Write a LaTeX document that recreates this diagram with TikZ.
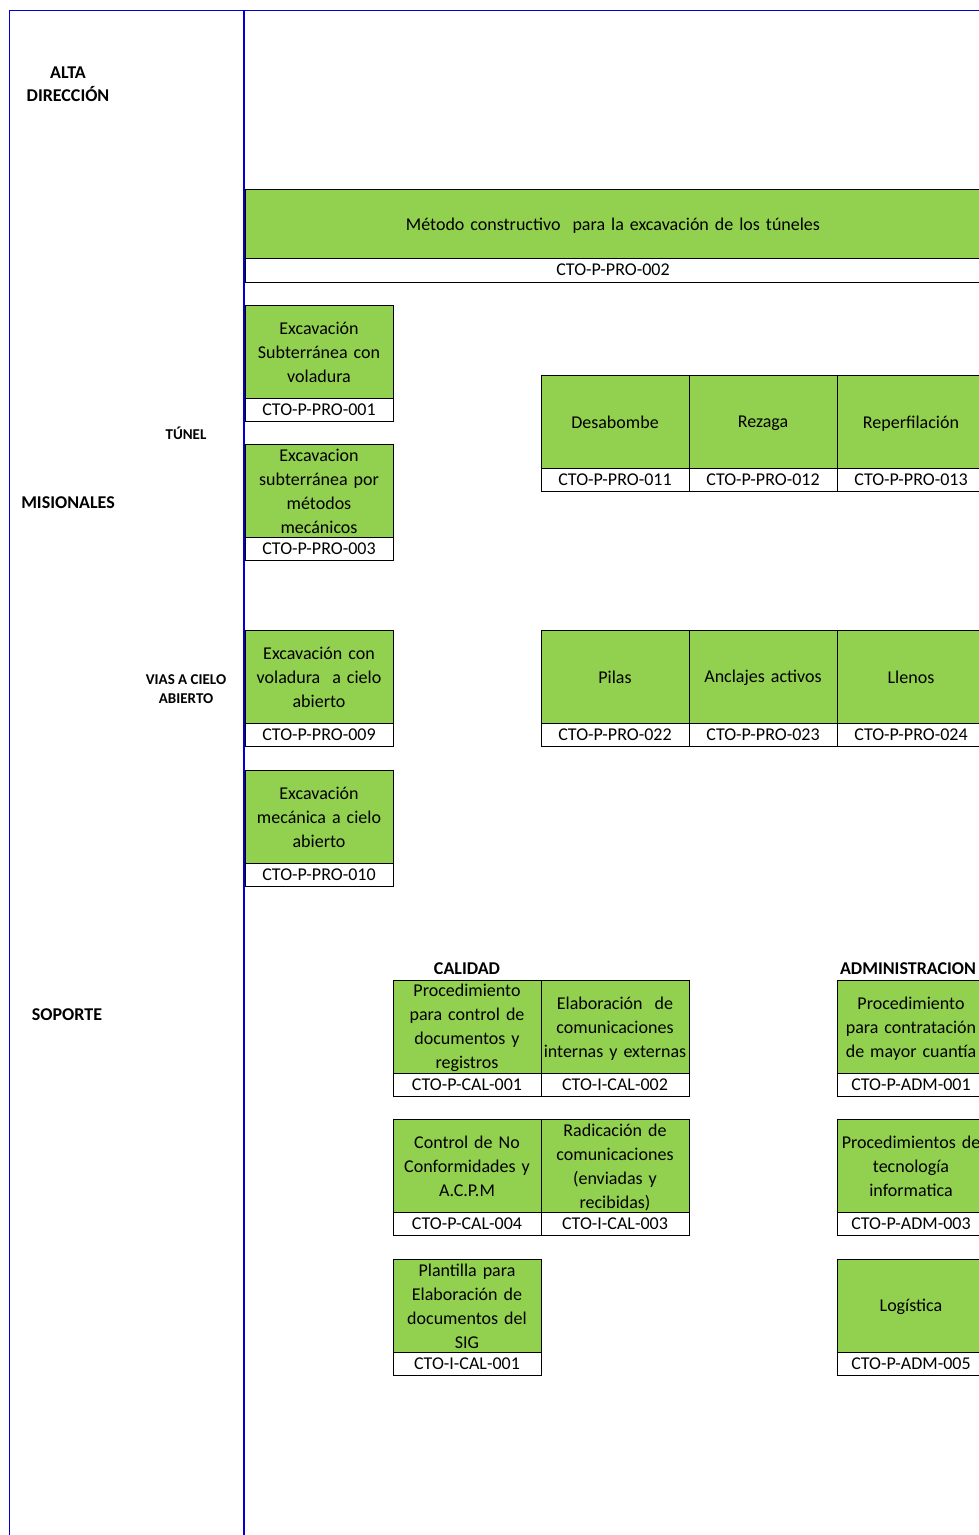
\documentclass[tikz,border=0pt]{standalone}
\usepackage{fontspec}
\setmainfont{Carlito}
\usetikzlibrary{positioning}
\definecolor{procgreen}{RGB}{146,208,80}
\definecolor{laneblue}{RGB}{0,0,210}
\begin{document}
\begin{tikzpicture}[x=1pt, y=-1pt,
    proc/.style={draw=black, line width=0.8pt, fill=procgreen, text width=148pt, align=center,
      minimum height=93pt, inner sep=0pt, outer sep=0pt, font=\fontsize{18}{24}\selectfont,
      execute at begin node={\rule{0pt}{16pt}}, execute at end node={\rule[-3pt]{0pt}{3pt}}},
    code/.style={draw=black, line width=0.8pt, fill=white, minimum width=148pt, minimum height=23pt,
      inner sep=0pt, outer sep=0pt, font=\fontsize{18}{24}\selectfont},
    lane/.style={font=\bfseries\fontsize{18}{23}\selectfont, align=center},
    sublane/.style={font=\bfseries\fontsize{15}{19}\selectfont, align=center}]
    \useasboundingbox (0,0) rectangle (979,1535);
    % lane labels
    \node[lane] (alta) at (68,84.5) {ALTA\\DIRECCIÓN};
    \node[lane] (misionales) at (68,503) {MISIONALES};
    \node[lane] (soporte) at (67,1015) {SOPORTE};
    \node[sublane] (tunel) at (186,433) {TÚNEL};
    \node[sublane] (vias) at (186,689.5) {VIAS A CIELO\\ABIERTO};
    % main method
    \node[proc, text width=736pt, minimum height=69pt, anchor=north west] (metodo) at (245,189)
      {Método constructivo~ para la excavación de los túneles};
    \node[code, minimum width=736pt, minimum height=24pt, below=0pt of metodo] (metodocode) {CTO-P-PRO-002};
    % tunel
    \node[proc, anchor=north west] (exsub) at (245,305) {Excavación\\Subterránea con\\voladura};
    \node[code, below=0pt of exsub] (exsubcode) {CTO-P-PRO-001};
    \node[proc, anchor=north west] (exmec) at (245,444) {Excavacion\\subterránea por\\métodos\\mecánicos};
    \node[code, below=0pt of exmec] (exmeccode) {CTO-P-PRO-003};
    \node[proc, anchor=north west] (desab) at (541,375) {Desabombe};
    \node[proc, right=0pt of desab] (rezaga) {Rezaga};
    \node[proc, right=0pt of rezaga] (reperf) {Reperfilación};
    \node[code, below=0pt of desab] (desabcode) {CTO-P-PRO-011};
    \node[code, below=0pt of rezaga] (rezagacode) {CTO-P-PRO-012};
    \node[code, below=0pt of reperf] (reperfcode) {CTO-P-PRO-013};
    % vias a cielo abierto
    \node[proc, anchor=north west] (excielo) at (245,630) {Excavación con\\voladura~ a cielo\\abierto};
    \node[code, below=0pt of excielo] (excielocode) {CTO-P-PRO-009};
    \node[proc, anchor=north west] (mecielo) at (245,770) {Excavación\\mecánica a cielo\\abierto};
    \node[code, below=0pt of mecielo] (mecielocode) {CTO-P-PRO-010};
    \node[proc, anchor=north west] (pilas) at (541,630) {Pilas};
    \node[proc, right=0pt of pilas] (anclajes) {Anclajes activos};
    \node[proc, right=0pt of anclajes] (llenos) {Llenos};
    \node[code, below=0pt of pilas] (pilascode) {CTO-P-PRO-022};
    \node[code, below=0pt of anclajes] (anclajescode) {CTO-P-PRO-023};
    \node[code, below=0pt of llenos] (llenoscode) {CTO-P-PRO-024};
    % soporte: calidad
    \node[lane] (calidad) at (467,969) {CALIDAD};
    \node[proc, anchor=north west] (ctrldoc) at (393,980) {Procedimiento\\para control de\\documentos y\\registros};
    \node[proc, right=0pt of ctrldoc] (comun) {Elaboración~ de\\comunicaciones\\internas y externas};
    \node[code, below=0pt of ctrldoc] (ctrldoccode) {CTO-P-CAL-001};
    \node[code, below=0pt of comun] (comuncode) {CTO-I-CAL-002};
    \node[proc, anchor=north west] (noconf) at (393,1119) {Control de No\\Conformidades y\\A.C.P.M};
    \node[proc, right=0pt of noconf] (radic) {Radicación de\\comunicaciones\\(enviadas y\\recibidas)};
    \node[code, below=0pt of noconf] (noconfcode) {CTO-P-CAL-004};
    \node[code, below=0pt of radic] (radiccode) {CTO-I-CAL-003};
    \node[proc, anchor=north west] (plantilla) at (393,1259) {Plantilla para\\Elaboración de\\documentos del\\SIG};
    \node[code, below=0pt of plantilla] (plantillacode) {CTO-I-CAL-001};
    % soporte: administracion
    \node[lane] (admin) at (908,969) {ADMINISTRACION};
    \node[proc, anchor=north west] (contrat) at (837,980) {Procedimiento\\para contratación\\de mayor cuantía};
    \node[code, below=0pt of contrat] (contratcode) {CTO-P-ADM-001};
    \node[proc, anchor=north west] (tecno) at (837,1119) {Procedimientos de\\tecnología\\informatica};
    \node[code, below=0pt of tecno] (tecnocode) {CTO-P-ADM-003};
    \node[proc, anchor=north west] (logist) at (837,1259) {Logística};
    \node[code, below=0pt of logist] (logistcode) {CTO-P-ADM-005};
    % frame lines
    \draw[laneblue, line width=1pt] (9,1535) -- (9,10) -- (979,10);
    \draw[laneblue, line width=2pt] (244,10) -- (244,1535);
\end{tikzpicture}
\end{document}
